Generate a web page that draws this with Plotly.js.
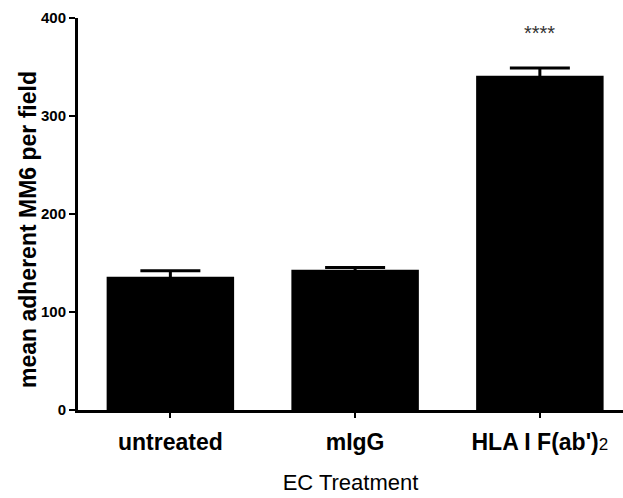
<!DOCTYPE html>
<html>
<head>
<meta charset="utf-8">
<script src="https://cdn.plot.ly/plotly-3.0.1.min.js"></script>
<style>html,body{margin:0;padding:0;background:#fff;}#chart{width:623px;height:498px;}</style>
</head>
<body>
<div id="chart"></div>
<script>
const categories = ["untreated", "mIgG", "HLA I F(ab')<span style=\"font-size:17px;font-weight:normal\">2</span>"];
const meanValues = [136, 143, 341];
const semValues = [6, 2.5, 8];
const significance = ["", "", "****"];
const yTickValues = [0, 100, 200, 300, 400];
const yTitle = 'mean adherent MM6 per field';
const xTitle = 'EC Treatment';

const trace = {
  type: 'bar',
  x: [0, 1, 2],
  y: meanValues,
  width: 0.69,
  marker: {color: '#000000', line: {width: 0}},
  error_y: {type: 'data', array: semValues, symmetric: true, visible: true, color: '#000000', thickness: 3, width: 30},
  hoverinfo: 'none'
};

const annotations = [];
significance.forEach((s, i) => {
  if (s) annotations.push({
    x: i, y: 385, xref: 'x', yref: 'y', text: s, showarrow: false,
    font: {family: 'Liberation Sans, Arial, sans-serif', size: 20, color: '#333'}
  });
});
annotations.push({
  xref: 'paper', yref: 'paper', x: (28 - 78) / 545, y: (410 - 230) / 392,
  xanchor: 'center', yanchor: 'middle', textangle: -90, showarrow: false,
  text: yTitle,
  font: {family: 'Liberation Sans, Arial, sans-serif', size: 23, color: '#000', weight: 'bold'}
});

const layout = {
  width: 623, height: 498,
  margin: {l: 78, r: 0, t: 18, b: 88, pad: 0},
  paper_bgcolor: '#fff', plot_bgcolor: '#fff',
  showlegend: false,
  font: {family: 'Liberation Sans, Arial, sans-serif', color: '#000'},
  xaxis: {
    range: [-0.5, 2.45],
    tickmode: 'array', tickvals: [0, 1, 2], ticktext: categories,
    ticks: 'outside', ticklen: 5, tickwidth: 2, tickcolor: '#000',
    ticklabelstandoff: 5,
    showline: true, linecolor: '#000', linewidth: 2.5,
    showgrid: false, zeroline: false,
    tickfont: {size: 23, color: '#000', family: 'Liberation Sans, Arial, sans-serif', weight: 'bold'},
    title: {text: xTitle, font: {size: 22, color: '#000'}, standoff: 21}
  },
  yaxis: {
    range: [0, 400],
    tickmode: 'array', tickvals: yTickValues,
    ticks: 'outside', ticklen: 6, tickwidth: 2, tickcolor: '#000',
    showline: true, linecolor: '#000', linewidth: 3,
    showgrid: false, zeroline: false,
    tickfont: {size: 15, color: '#000', weight: 'bold'}
  },
  annotations: annotations
};

Plotly.newPlot('chart', [trace], layout, {displayModeBar: false, staticPlot: true});
</script>
</body>
</html>
